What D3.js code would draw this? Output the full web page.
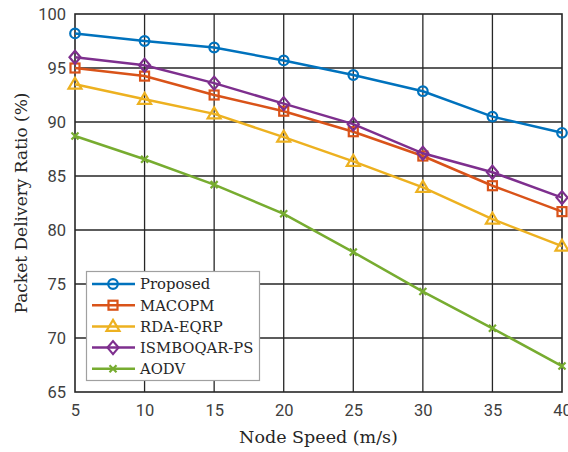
<!DOCTYPE html>
<html><head><meta charset="utf-8">
<script src="https://cdn.jsdelivr.net/npm/d3@7"></script>
<style>body{margin:0;background:#fff}</style>
</head><body><svg id="c" width="568" height="452"></svg>
<script>
const speeds = [5,10,15,20,25,30,35,40];
const seriesNames = ["Proposed","MACOPM","RDA-EQRP","ISMBOQAR-PS","AODV"];
const proposed = [98.2,97.5,96.9,95.7,94.35,92.85,90.5,89.0];
const macopm   = [95.0,94.25,92.5,91.0,89.1,86.85,84.1,81.7];
const rdaeqrp  = [93.5,92.1,90.75,88.6,86.35,83.95,81.0,78.5];
const ismboqar = [96.0,95.25,93.6,91.7,89.8,87.1,85.35,83.0];
const aodv     = [88.7,86.55,84.2,81.5,77.95,74.3,70.9,67.4];
const xTicks = [5,10,15,20,25,30,35,40];
const yTicks = [65,70,75,80,85,90,95,100];
const colors = ["#0072BD","#D95319","#EDB120","#7E2F8E","#77AC30"];
const markers = ["circle","square","triangle","diamond","cross"];
const values = [proposed, macopm, rdaeqrp, ismboqar, aodv];

const svg = d3.select("#c");
const L=75, R=562, T=14, B=392;
const x = d3.scaleLinear().domain([5,40]).range([L,R]);
const y = d3.scaleLinear().domain([65,100]).range([B,T]);
const tickFont = "Roboto, sans-serif";
const labFont = "'DejaVu Serif', serif";

// grid
svg.append("g").selectAll("line").data(xTicks.slice(1,-1)).join("line")
  .attr("x1",d=>x(d)).attr("x2",d=>x(d)).attr("y1",T).attr("y2",B)
  .attr("stroke","#262626").attr("stroke-width",1.3);
svg.append("g").selectAll("line").data(yTicks.slice(1,-1)).join("line")
  .attr("y1",d=>y(d)).attr("y2",d=>y(d)).attr("x1",L).attr("x2",R)
  .attr("stroke","#262626").attr("stroke-width",1.3);

// axes
const xa = svg.append("g").attr("transform",`translate(0,${B})`)
  .call(d3.axisBottom(x).tickValues(xTicks).tickSize(0).tickPadding(12));
const ya = svg.append("g").attr("transform",`translate(${L},0)`)
  .call(d3.axisLeft(y).tickValues(yTicks).tickSize(0).tickPadding(9));
[xa,ya].forEach(a=>{a.select(".domain").remove();
  a.selectAll("text").attr("font-family",tickFont).attr("font-size",16.5).attr("fill","#404040");});
ya.selectAll("text").attr("dy","0.35em");

svg.append("rect").attr("x",L).attr("y",T).attr("width",R-L).attr("height",B-T)
  .attr("fill","none").attr("stroke","#262626").attr("stroke-width",1.6);

svg.append("text").attr("x",(L+R)/2).attr("y",443).attr("text-anchor","middle")
  .attr("font-family",labFont).attr("font-size",17.5).attr("fill","#262626").text("Node Speed (m/s)");
svg.append("text").attr("transform",`translate(27,${(T+B)/2}) rotate(-90)`).attr("text-anchor","middle")
  .attr("font-family",labFont).attr("font-size",17).attr("fill","#262626").text("Packet Delivery Ratio (%)");

function drawMarker(g, type, cx, cy, color){
  if(type==="circle") g.append("circle").attr("cx",cx).attr("cy",cy).attr("r",4.8)
    .attr("fill","none").attr("stroke",color).attr("stroke-width",2.2);
  else if(type==="square") g.append("rect").attr("x",cx-4.5).attr("y",cy-4.5).attr("width",9).attr("height",9)
    .attr("fill","none").attr("stroke",color).attr("stroke-width",2.2);
  else if(type==="triangle") g.append("path").attr("d",`M${cx},${cy-6.5}L${cx+6.5},${cy+4.5}L${cx-6.5},${cy+4.5}Z`)
    .attr("fill","none").attr("stroke",color).attr("stroke-width",2.2);
  else if(type==="diamond") g.append("path").attr("d",`M${cx},${cy-6.5}L${cx+5.5},${cy}L${cx},${cy+6.5}L${cx-5.5},${cy}Z`)
    .attr("fill","none").attr("stroke",color).attr("stroke-width",2.2);
  else g.append("path").attr("d",`M${cx-3.5},${cy-3.5}L${cx+3.5},${cy+3.5}M${cx+3.5},${cy-3.5}L${cx-3.5},${cy+3.5}`)
    .attr("stroke",color).attr("stroke-width",2.2);
}

const line = d3.line().x((d,i)=>x(speeds[i])).y(d=>y(d));
values.forEach((vals,k)=>{
  const g = svg.append("g");
  g.append("path").attr("d",line(vals)).attr("fill","none").attr("stroke",colors[k]).attr("stroke-width",2.5);
  vals.forEach((v,i)=>drawMarker(g,markers[k],x(speeds[i]),y(v),colors[k]));
});

// legend
const lg = svg.append("g");
lg.append("rect").attr("x",86.5).attr("y",271.5).attr("width",173).attr("height",109)
  .attr("fill","#fff").attr("stroke","#a0a0a0").attr("stroke-width",1.2);
seriesNames.forEach((n,k)=>{
  const cy = 284 + k*21.2;
  lg.append("line").attr("x1",92).attr("x2",135).attr("y1",cy).attr("y2",cy)
    .attr("stroke",colors[k]).attr("stroke-width",2.5);
  drawMarker(lg,markers[k],113,cy,colors[k]);
  lg.append("text").attr("x",140).attr("y",cy).attr("dy","0.36em")
    .attr("font-family",labFont).attr("font-size",14.8).attr("fill","#262626").text(n);
});
</script></body></html>
